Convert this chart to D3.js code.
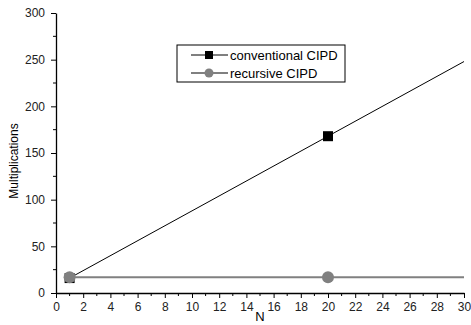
<!DOCTYPE html>
<html>
<head>
<meta charset="utf-8">
<script src="https://cdn.jsdelivr.net/npm/d3@7"></script>
<style>
  body { margin: 0; background: #fff; }
  svg { display: block; font-family: "Liberation Sans", Arial, sans-serif; }
</style>
</head>
<body>
<div id="chart"></div>
<script>
// data
const nValues = [1, 20, 30];
const conventional = [16, 168, 248];
const recursive = [17, 17, 17];
const markerIdx = [0, 1]; // symbols only drawn at N=1 and N=20
const seriesNames = ['conventional CIPD', 'recursive CIPD'];
const xTicks = d3.range(0, 31, 2);
const yTicks = d3.range(0, 301, 50);

const width = 471, height = 325;
const svg = d3.select('#chart').append('svg')
  .attr('width', width)
  .attr('height', height);

const x = d3.scaleLinear().domain([0, 30]).range([56, 464]);
const y = d3.scaleLinear().domain([0, 300]).range([293, 13]);

// axes
const xAxis = svg.append('g')
  .attr('transform', 'translate(0,' + y(0) + ')')
  .call(d3.axisBottom(x).tickValues(xTicks).tickSize(5).tickPadding(4).tickSizeOuter(0));
xAxis.append('g').selectAll('line')
  .data(d3.range(1, 30, 2))
  .join('line')
  .attr('x1', d => x(d)).attr('x2', d => x(d))
  .attr('y1', 0).attr('y2', 3)
  .attr('stroke', '#000');

const yAxis = svg.append('g')
  .attr('transform', 'translate(' + x(0) + ',0)')
  .call(d3.axisLeft(y).tickValues(yTicks).tickSize(5).tickPadding(6).tickSizeOuter(0));
yAxis.append('g').selectAll('line')
  .data(d3.range(25, 300, 50))
  .join('line')
  .attr('y1', d => y(d)).attr('y2', d => y(d))
  .attr('x1', 0).attr('x2', -3)
  .attr('stroke', '#000');

[xAxis, yAxis].forEach(a => {
  a.select('.domain').attr('stroke-width', 1.3);
  a.selectAll('text').style('font-size', '12px').attr('fill', '#222');
});

svg.append('text')
  .attr('x', x(15))
  .attr('y', 321)
  .attr('text-anchor', 'middle')
  .style('font-size', '13px')
  .text('N');

svg.append('text')
  .attr('transform', 'translate(18,161) rotate(-90)')
  .attr('text-anchor', 'middle')
  .style('font-size', '12px')
  .text('Multiplications');

// lines
const line = d3.line()
  .x((d, i) => x(nValues[i]))
  .y(d => y(d));

svg.append('path')
  .attr('d', line(recursive))
  .attr('fill', 'none')
  .attr('stroke', '#808080')
  .attr('stroke-width', 2);

svg.append('path')
  .attr('d', line(conventional))
  .attr('fill', 'none')
  .attr('stroke', '#000')
  .attr('stroke-width', 1);

svg.append('g').selectAll('rect')
  .data(markerIdx)
  .join('rect')
  .attr('x', i => x(nValues[i]) - 5)
  .attr('y', i => y(conventional[i]) - 5)
  .attr('width', 10)
  .attr('height', 10)
  .attr('fill', '#000');

svg.append('g').selectAll('circle')
  .data(markerIdx)
  .join('circle')
  .attr('cx', i => x(nValues[i]))
  .attr('cy', i => y(recursive[i]))
  .attr('r', 6)
  .attr('fill', '#808080');

// legend
const legend = svg.append('g').attr('transform', 'translate(177,45)');
legend.append('rect')
  .attr('width', 168).attr('height', 37)
  .attr('fill', '#fff').attr('stroke', '#000').attr('stroke-width', 1);

seriesNames.forEach((name, i) => {
  const row = legend.append('g').attr('transform', 'translate(0,' + (10 + i * 18) + ')');
  const col = i === 0 ? '#000' : '#808080';
  row.append('line')
    .attr('x1', 14).attr('x2', 51)
    .attr('stroke', col).attr('stroke-width', i === 0 ? 1 : 2);
  if (i === 0) {
    row.append('rect').attr('x', 28).attr('y', -4).attr('width', 8).attr('height', 8).attr('fill', col);
  } else {
    row.append('circle').attr('cx', 32).attr('r', 4.5).attr('fill', col);
  }
  row.append('text')
    .attr('x', 53).attr('dy', '0.35em')
    .style('font-size', '13px')
    .text(name);
});
</script>
</body>
</html>
